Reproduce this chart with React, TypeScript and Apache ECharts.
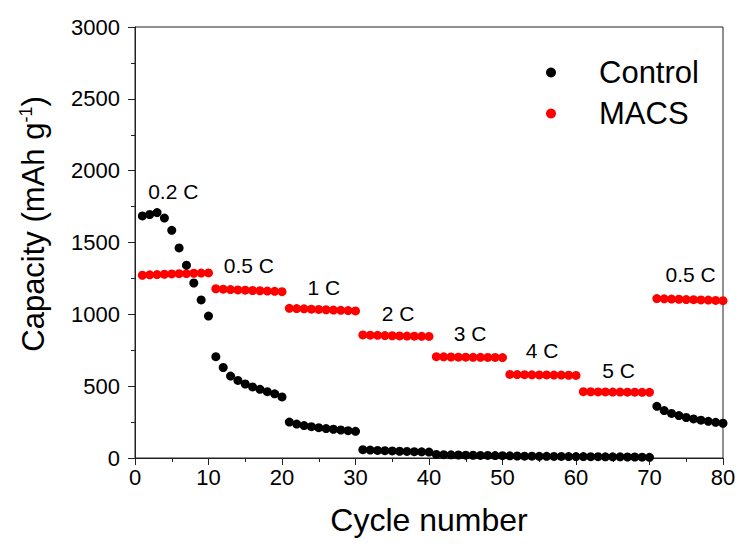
import React, { useEffect, useRef } from "react";
import * as echarts from "echarts";

const cycles: number[] = Array.from({ length: 80 }, (_, i) => i + 1);

const controlCapacity: number[] = [
  1685, 1695, 1708, 1670, 1585, 1462, 1342, 1218, 1100, 988,
  705, 630, 570, 540, 515, 495, 478, 462, 447, 425,
  250, 236, 226, 218, 211, 205, 200, 195, 190, 186,
  58, 55, 53, 51, 49, 47, 46, 44, 43, 41,
  25, 23, 22, 21, 20, 19, 18, 18, 17, 16,
  15, 14, 13, 13, 12, 12, 11, 11, 10, 10,
  10, 9, 9, 8, 8, 8, 7, 7, 6, 5,
  360, 330, 310, 295, 282, 272, 263, 255, 248, 242,
];

const macsCapacity: number[] = [
  1272, 1275, 1277, 1279, 1281, 1283, 1284, 1286, 1287, 1288,
  1178, 1175, 1172, 1170, 1168, 1166, 1164, 1162, 1160, 1158,
  1042, 1040, 1038, 1036, 1034, 1032, 1030, 1028, 1026, 1024,
  857, 855, 854, 852, 851, 850, 849, 848, 847, 846,
  705, 704, 703, 702, 702, 701, 701, 700, 700, 699,
  582, 581, 580, 579, 578, 578, 577, 577, 576, 575,
  462, 461, 460, 460, 459, 459, 458, 458, 457, 457,
  1110, 1108, 1106, 1105, 1103, 1102, 1100, 1099, 1097, 1095,
];

// rate annotations: [cycle, capacity, text]
const rateLabels: [number, number, string][] = [
  [5.2, 1858, "0.2 C"],
  [15.5, 1337, "0.5 C"],
  [25.7, 1184, "1 C"],
  [35.8, 1009, "2 C"],
  [45.6, 870, "3 C"],
  [55.4, 745, "4 C"],
  [65.8, 612, "5 C"],
  [75.6, 1274, "0.5 C"],
];

const seriesNames = ["Control", "MACS"];
const yTicks = [0, 500, 1000, 1500, 2000, 2500, 3000];
const xTicks = [0, 10, 20, 30, 40, 50, 60, 70, 80];

const FONT = "'Liberation Sans', Arial, sans-serif";
const AXIS = "#222";

export default function App() {
  const ref = useRef<HTMLDivElement>(null);
  useEffect(() => {
    if (!ref.current) return;
    const chart = echarts.init(ref.current, undefined, { renderer: "svg" });
    const control = cycles.map((c, i) => [c, controlCapacity[i]]);
    const macs = cycles.map((c, i) => [c, macsCapacity[i]]);
    chart.setOption({
      animation: false,
      backgroundColor: "#fff",
      grid: {
        left: 135,
        right: 20,
        top: 27,
        bottom: 91,
        show: true,
        borderColor: AXIS,
        borderWidth: 1,
        backgroundColor: "transparent",
      },
      legend: {
        data: seriesNames,
        orient: "vertical",
        left: 541,
        top: 52,
        itemWidth: 10,
        itemHeight: 10,
        itemGap: 10,
        icon: "circle",
        textStyle: {
          fontFamily: FONT,
          fontSize: 31,
          color: "#000",
          padding: [0, 0, 0, 38],
        },
      },
      xAxis: {
        type: "value",
        min: xTicks[0],
        max: xTicks[xTicks.length - 1],
        interval: 10,
        name: "Cycle number",
        nameLocation: "middle",
        nameGap: 46,
        nameTextStyle: { fontFamily: FONT, fontSize: 32, color: "#000" },
        axisLine: { show: true, lineStyle: { color: AXIS, width: 1 } },
        axisTick: { show: true, inside: false, length: 7, lineStyle: { color: AXIS } },
        minorTick: { show: true, splitNumber: 2, length: 4, lineStyle: { color: AXIS } },
        splitLine: { show: false },
        axisLabel: { fontFamily: FONT, fontSize: 22, color: "#000", margin: 8 },
      },
      yAxis: {
        type: "value",
        min: yTicks[0],
        max: yTicks[yTicks.length - 1],
        interval: 500,
        axisLine: { show: true, lineStyle: { color: AXIS, width: 1 } },
        axisTick: { show: true, inside: false, length: 7, lineStyle: { color: AXIS } },
        minorTick: { show: true, splitNumber: 2, length: 4, lineStyle: { color: AXIS } },
        splitLine: { show: false },
        axisLabel: {
          fontFamily: FONT,
          fontSize: 22,
          color: "#000",
          margin: 15,
          formatter: (v: number) => String(v),
        },
      },
      graphic: [
        {
          type: "text",
          x: 33,
          y: 224,
          rotation: Math.PI / 2,
          style: {
            text: "{a|Capacity (mAh g}{b|-1}{a|)}",
            align: "center",
            verticalAlign: "middle",
            fill: "#000",
            rich: {
              a: { fontFamily: FONT, fontSize: 31, fill: "#000" },
              b: { fontFamily: FONT, fontSize: 18, fill: "#000", padding: [0, 0, 14, 0] },
            },
          },
        },
      ],
      series: [
        {
          name: "MACS",
          type: "scatter",
          data: macs,
          symbol: "circle",
          symbolSize: 9,
          itemStyle: { color: "#ff0000", opacity: 1 },
          z: 2,
        },
        {
          name: "Control",
          type: "scatter",
          data: control,
          symbol: "circle",
          symbolSize: 9,
          itemStyle: { color: "#000000", opacity: 1 },
          z: 3,
        },
        {
          name: "rates",
          type: "scatter",
          data: rateLabels,
          symbolSize: 0,
          silent: true,
          z: 4,
          itemStyle: { opacity: 1, color: "#000" },
          label: {
            show: true,
            position: "inside",
            formatter: (p: any) => p.value[2],
            fontFamily: FONT,
            fontSize: 21,
            color: "#000",
            opacity: 1,
            textBorderWidth: 0,
          },
        },
      ],
    });
    return () => chart.dispose();
  }, []);
  return <div ref={ref} style={{ width: 743, height: 549, margin: -8 }} />;
}
